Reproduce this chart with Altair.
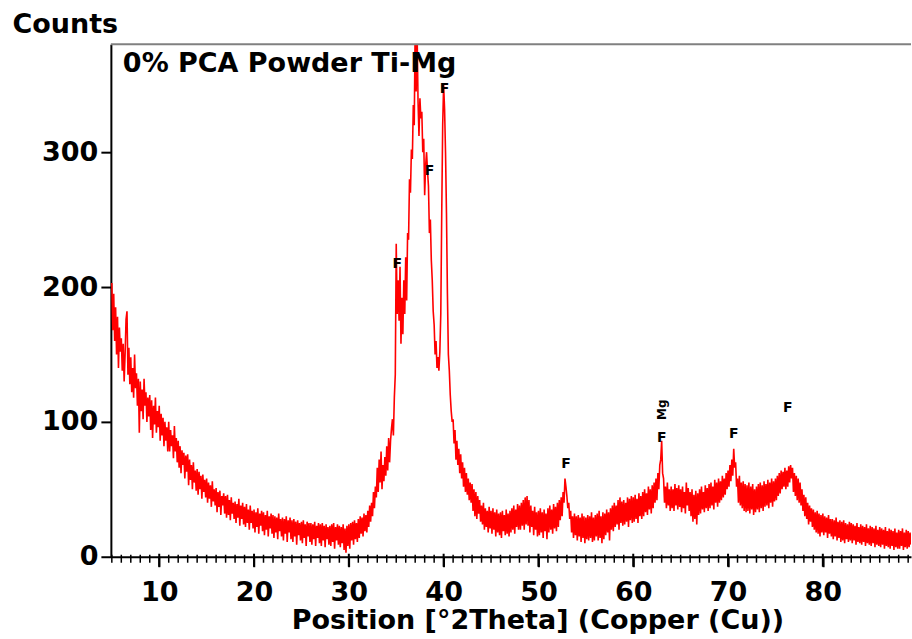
import altair as alt
import pandas as pd

# ---------------- data ----------------
two_theta_start = 5.0
two_theta_step = 0.1
counts = [
    203, 168, 195, 160, 185, 150, 178, 140, 170, 152,   # 5
    162, 138, 158, 130, 150, 176, 182, 135, 155, 128,   # 6
    148, 122, 140, 118, 150, 125, 136, 112, 132, 92,    # 7
    130, 108, 124, 102, 132, 112, 122, 100, 118, 104,   # 8
    120, 94, 116, 88, 112, 98, 118, 92, 108, 96,        # 9
    112, 86, 106, 90, 103, 82, 100, 86, 96, 78,         # 10
    100, 78, 94, 82, 90, 73, 97, 78, 88, 70,            # 11
    86, 66, 82, 62, 79, 68, 77, 58, 75, 63,             # 12
    76, 53, 72, 57, 68, 50, 70, 55, 64, 49,             # 13
    65, 46, 63, 50, 60, 43, 61, 48, 57, 44,             # 14
    58, 40, 55, 43, 53, 37, 56, 41, 50, 38,             # 15
    51, 33, 48, 37, 49, 31, 45, 38, 47, 32,             # 16
    45, 29, 46, 31, 42, 27, 44, 32, 40, 28,             # 17
    41, 25, 39, 29, 43, 23, 38, 28, 40, 24,             # 18
    37, 22, 39, 25, 35, 20, 38, 25, 34, 21,             # 19
    35, 18, 33, 22, 36, 17, 32, 23, 34, 19,             # 20
    33, 16, 31, 20, 34, 15, 30, 21, 32, 17,             # 21
    31, 14, 30, 18, 29, 13, 32, 19, 28, 15,             # 22
    29, 12, 28, 17, 30, 11, 27, 18, 29, 13,             # 23
    27, 11, 28, 15, 26, 9, 27, 16, 25, 12,              # 24
    26, 10, 27, 14, 24, 8, 26, 15, 25, 11,              # 25
    25, 9, 24, 13, 26, 8, 23, 14, 25, 10,               # 26
    24, 8, 25, 12, 23, 7, 24, 13, 22, 9,                # 27
    23, 8, 24, 11, 25, 6, 22, 12, 24, 9,                # 28
    23, 7, 22, 10, 24, 5, 21, 3, 23, 8,                 # 29
    24, 6, 25, 12, 26, 9, 27, 13, 25, 11,               # 30
    28, 14, 30, 17, 29, 15, 32, 19, 31, 18,             # 31
    34, 22, 38, 26, 40, 30, 48, 36, 52, 44,             # 32
    66, 48, 72, 55, 78, 50, 68, 56, 74, 60,             # 33
    82, 64, 88, 70, 86, 95, 102, 90, 118, 135,          # 34
    232, 180, 205, 175, 215, 158, 192, 165, 205, 180,   # 35
    222, 190, 240, 235, 280, 270, 302, 295, 335, 320,   # 36
    395, 345, 390, 338, 312, 340, 325, 330, 300, 310,   # 37
    268, 290, 300, 286, 275, 240, 250, 220, 205, 182,   # 38
    172, 150, 160, 140, 148, 138, 152, 180, 255, 320,   # 39
    350, 332, 300, 255, 195, 150, 138, 120, 108, 100,   # 40
    102, 84, 94, 72, 86, 68, 80, 62, 76, 58,            # 41
    70, 52, 66, 48, 62, 46, 58, 42, 55, 40,             # 42
    54, 34, 50, 30, 48, 28, 45, 32, 42, 26,             # 43
    38, 24, 40, 20, 36, 22, 34, 18, 37, 21,             # 44
    34, 17, 36, 20, 33, 15, 35, 18, 32, 16,             # 45
    33, 14, 34, 19, 31, 16, 35, 17, 32, 15,             # 46
    34, 18, 36, 20, 38, 17, 35, 22, 39, 20,             # 47
    38, 20, 40, 23, 42, 20, 44, 24, 45, 23,             # 48
    42, 18, 38, 22, 34, 16, 37, 20, 33, 15,             # 49
    34, 16, 36, 18, 33, 14, 35, 19, 32, 13,             # 50
    36, 18, 38, 20, 35, 17, 39, 21, 37, 19,             # 51
    40, 22, 42, 27, 44, 30, 48, 40, 58, 52,             # 52
    45, 36, 40, 28, 34, 18, 30, 14, 32, 16,             # 53
    30, 12, 31, 15, 29, 11, 32, 14, 30, 10,             # 54
    29, 13, 31, 12, 30, 14, 33, 11, 29, 12,             # 55
    31, 15, 32, 12, 34, 14, 30, 10, 33, 13,             # 56
    32, 16, 35, 18, 33, 12, 36, 20, 38, 19,             # 57
    40, 22, 38, 24, 42, 20, 44, 25, 41, 23,             # 58
    42, 24, 40, 26, 44, 22, 43, 27, 45, 25,             # 59
    44, 26, 46, 28, 43, 25, 47, 30, 45, 28,             # 60
    48, 30, 50, 33, 47, 31, 52, 35, 50, 32,             # 61
    53, 36, 55, 40, 58, 42, 62, 50, 68, 72,             # 62
    86, 62, 58, 40, 52, 36, 55, 38, 50, 34,             # 63
    52, 36, 50, 34, 54, 38, 51, 35, 53, 37,             # 64
    50, 33, 52, 36, 48, 32, 55, 38, 51, 34,             # 65
    48, 30, 50, 26, 46, 28, 49, 24, 47, 31,             # 66
    50, 32, 52, 35, 48, 33, 53, 36, 51, 34,             # 67
    54, 36, 55, 38, 52, 35, 57, 40, 55, 37,             # 68
    58, 40, 56, 42, 60, 44, 58, 46, 62, 50,             # 69
    64, 52, 68, 56, 72, 60, 80, 66, 70, 52,             # 70
    58, 40, 60, 38, 55, 36, 56, 34, 54, 33,             # 71
    53, 34, 55, 32, 52, 35, 54, 31, 50, 33,             # 72
    52, 35, 54, 33, 55, 36, 53, 34, 56, 37,             # 73
    54, 38, 57, 36, 55, 40, 58, 37, 56, 41,             # 74
    58, 42, 60, 45, 62, 47, 64, 50, 63, 52,             # 75
    66, 50, 64, 52, 67, 55, 68, 58, 66, 48,             # 76
    62, 45, 60, 42, 58, 40, 55, 38, 50, 34,             # 77
    46, 30, 44, 28, 40, 24, 38, 26, 36, 22,             # 78
    35, 20, 33, 18, 34, 17, 32, 15, 31, 18,             # 79
    32, 16, 30, 18, 29, 14, 31, 17, 28, 15,             # 80
    28, 13, 27, 15, 29, 12, 26, 14, 27, 11,             # 81
    26, 12, 27, 10, 25, 13, 24, 11, 26, 12,             # 82
    25, 10, 24, 12, 23, 9, 25, 11, 22, 10,              # 83
    24, 9, 23, 11, 22, 8, 24, 10, 21, 9,                # 84
    23, 8, 22, 10, 21, 7, 23, 9, 20, 8,                 # 85
    22, 7, 21, 9, 20, 6, 22, 8, 19, 7,                  # 86
    21, 6, 20, 8, 19, 5, 21, 7, 18, 6,                  # 87
    20, 6, 19, 8, 21, 5, 18, 7, 20, 6,                  # 88
    19, 7, 18, 9,                                       # 89
]

peak_pos = [35.1, 38.5, 40.1, 52.9, 63.0, 70.6, 76.3]
peak_cnt = [217, 286, 347, 69, 88, 91, 110]
peak_lbl = ["F", "F", "F", "F", "F", "F", "F"]

mg_pos = [63.0]
mg_cnt = [109]
mg_lbl = ["Mg"]

x_major = [10, 20, 30, 40, 50, 60, 70, 80]
x_minor = [v for v in range(5, 90) if v % 10 != 0]
y_ticks = [0, 100, 200, 300]

# ---------------- tables ----------------
df = pd.DataFrame({
    "theta": [round(two_theta_start + two_theta_step * i, 2) for i in range(len(counts))],
    "counts": counts,
})
peaks = pd.DataFrame({"theta": peak_pos, "counts": peak_cnt, "lbl": peak_lbl})
mg = pd.DataFrame({"theta": mg_pos, "counts": mg_cnt, "lbl": mg_lbl})
minor = pd.DataFrame({"theta": x_minor})
major = pd.DataFrame({"theta": x_major})

FONT = "DejaVu Sans"
FS = 27
W, H = 801, 513

xscale = alt.Scale(domain=[4.9, 89.3], nice=False, zero=False)
yscale = alt.Scale(domain=[0, 380], nice=False, zero=True)

x_axis = alt.Axis(
    orient="bottom", values=x_major, ticks=True, tickSize=10, tickWidth=2,
    tickColor="black",
    domainColor="black", domainWidth=2, grid=False,
    labelFont=FONT, labelFontSize=FS, labelFontWeight="bold", labelColor="black",
    labelPadding=13, labelFlush=False,
    title="Position [°2Theta] (Copper (Cu))", titleFont=FONT, titleFontSize=FS,
    titleFontWeight="bold", titleColor="black", titlePadding=2,
    titleX=427, titleAnchor="middle",
)
y_axis = alt.Axis(
    orient="left", values=y_ticks, tickSize=10, tickWidth=2, tickColor="black",
    domainColor="black", domainWidth=2, grid=False,
    labelFont=FONT, labelFontSize=FS, labelFontWeight="bold", labelColor="black",
    labelPadding=3,
    title="Counts", titleFont=FONT, titleFontSize=FS, titleFontWeight="bold",
    titleColor="black", titleAngle=0, titleAlign="left", titleBaseline="top",
    titleX=-99, titleY=-33,
)

line = alt.Chart(df).mark_line(color="#ff0000", strokeWidth=1.6, clip=True).encode(
    x=alt.X("theta:Q", scale=xscale, axis=x_axis),
    y=alt.Y("counts:Q", scale=yscale, axis=y_axis),
)

# one-degree ticks and the decade ticks, hung across the x axis line
minor_ticks = alt.Chart(minor).mark_rule(color="black", strokeWidth=1.5).encode(
    x=alt.X("theta:Q", scale=xscale, axis=x_axis),
    y=alt.value(H - 2),
    y2=alt.value(H + 6),
)
major_ticks = alt.Chart(major).mark_rule(color="black", strokeWidth=2).encode(
    x=alt.X("theta:Q", scale=xscale, axis=x_axis),
    y=alt.value(H - 3),
    y2=alt.value(H + 10),
)

peak_text = alt.Chart(peaks).mark_text(
    font=FONT, fontSize=14, fontWeight="bold", color="black", baseline="middle"
).encode(
    x=alt.X("theta:Q", scale=xscale, axis=x_axis),
    y=alt.Y("counts:Q", scale=yscale, axis=y_axis),
    text="lbl:N",
)

mg_text = alt.Chart(mg).mark_text(
    font=FONT, fontSize=12, fontWeight="bold", color="black", angle=270, baseline="middle"
).encode(
    x=alt.X("theta:Q", scale=xscale, axis=x_axis),
    y=alt.Y("counts:Q", scale=yscale, axis=y_axis),
    text="lbl:N",
)

one = pd.DataFrame({"a": [0]})
top_border = alt.Chart(one).mark_rule(color="#808080", strokeWidth=2).encode(
    x=alt.value(0), x2=alt.value(W), y=alt.value(0)
)
inner_title = alt.Chart(one).mark_text(
    font=FONT, fontSize=FS, fontWeight="bold", color="black", align="left", baseline="top"
).encode(
    x=alt.value(12), y=alt.value(7), text=alt.value("0% PCA Powder Ti-Mg")
)

chart = alt.layer(
    line, minor_ticks, major_ticks, peak_text, mg_text, top_border, inner_title
).properties(
    width=W, height=H,
    padding={"left": 12, "top": 10, "right": 0, "bottom": 0},
    background="white",
).configure_view(stroke=None)

chart.save("out.html", embed_options={"renderer": "svg", "actions": False})
